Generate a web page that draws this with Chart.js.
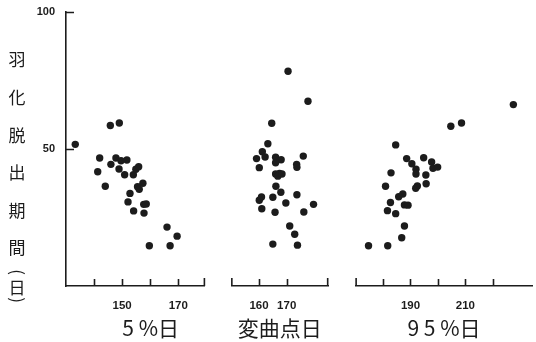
<!DOCTYPE html>
<html>
<head>
<meta charset="utf-8">
<script src="https://cdn.jsdelivr.net/npm/chart.js@4.4.1/dist/chart.umd.min.js"></script>
<style>
  html, body { margin: 0; padding: 0; background: #fff; }
  #wrap { width: 536px; height: 342px; position: relative; }
</style>
</head>
<body>
<div id="wrap"><canvas id="c" width="536" height="342"></canvas></div>
<script>
/* 羽化脱出期間 vs 5%日 / 変曲点日 / 95%日 — three panels sharing one y axis */

const INK = '#1c1c1c';
const JP = '"Noto Sans CJK JP", "Noto Sans", sans-serif';
const NUM = '"Liberation Sans", Arial, sans-serif';

// 5%日 panel
const day5 = [133.3, 145.8, 149.0, 142.0, 141.3, 144.0, 146.0, 147.8, 149.6, 151.7,
              148.9, 150.9, 154.0, 154.9, 155.9, 155.5, 156.1, 157.4, 152.8, 152.1,
              154.1, 157.7, 158.6, 157.8, 159.7, 166.0, 169.6, 167.1];
const per5 = [51.7, 58.6, 59.5, 46.7, 41.7, 36.4, 44.4, 46.7, 45.7, 46.0,
              42.7, 40.6, 40.6, 42.6, 43.5, 36.2, 35.3, 37.5, 33.8, 30.7,
              27.4, 29.8, 29.9, 26.6, 14.7, 21.5, 18.2, 14.7];

// 変曲点日 panel
const dayMid = [170.5, 177.7, 164.6, 163.2, 161.2, 159.1, 162.2, 160.1, 166.0, 168.0,
                166.0, 176.0, 173.6, 173.7, 166.0, 167.4, 166.8, 168.3, 166.1, 167.9,
                160.9, 160.1, 165.0, 173.7, 161.0, 169.7, 179.7, 165.8, 176.2, 171.1,
                172.9, 165.0, 173.9];
const perMid = [78.4, 67.4, 59.4, 51.9, 49.0, 46.5, 47.1, 43.2, 47.0, 46.1,
                45.0, 47.4, 44.4, 43.3, 40.9, 41.1, 40.1, 40.9, 36.4, 34.2,
                32.5, 31.3, 32.4, 33.3, 28.2, 30.3, 29.8, 26.9, 27.0, 21.9,
                18.9, 15.3, 14.9];

// 95%日 panel
const day95 = [227.5, 204.7, 208.6, 184.6, 188.6, 190.5, 194.8, 192.0, 192.0, 197.7,
               198.2, 199.9, 195.6, 182.9, 180.9, 192.5, 191.9, 195.7, 187.2, 185.7,
               182.7, 187.8, 189.1, 181.6, 184.6, 187.8, 186.8, 174.7, 181.7];
const per95 = [66.2, 58.3, 59.5, 51.5, 46.5, 44.6, 46.8, 42.6, 40.9, 45.3,
               43.0, 43.4, 40.5, 41.3, 36.4, 36.5, 35.7, 37.3, 33.6, 32.6,
               30.5, 29.6, 29.5, 27.5, 26.4, 21.9, 17.6, 14.7, 14.7];

// axis ranges, tick marks and labelled ticks per panel
const PANELS = [
  { id: 'x1', title: '\u3000  5 %日', min: 130, max: 179.5, marks: [140, 150, 160, 170], labels: [150, 170], weight: 139.7, leftEnd: false, rightEnd: true },
  { id: 'x2', title: '変曲点日', min: 150, max: 185, marks: [160, 170], labels: [160, 170], weight: 97.4, leftEnd: true, rightEnd: true },
  { id: 'x3', title: '9 5 %日', min: 170, max: 234.4, marks: [180, 190, 200, 210, 220], labels: [190, 210], weight: 177.7, leftEnd: true, rightEnd: false },
];
const GAPS = [26.6, 27.6];
const yMarks = [50, 100];
const yTitle = ['羽', '化', '脱', '出', '期', '間'];

const pairs = (xs, ys) => xs.map((x, i) => ({ x, y: ys[i] }));
const dot = { pointRadius: 3.7, pointHoverRadius: 3.7, backgroundColor: INK, borderWidth: 0 };

const axisFrame = {
  id: 'axisFrame',
  afterDraw(chart) {
    const { ctx, chartArea, scales } = chart;
    ctx.save();
    ctx.strokeStyle = INK; ctx.lineWidth = 1.6;
    const b = chartArea.bottom;
    ctx.beginPath();
    PANELS.forEach(p => {
      const s = scales[p.id];
      p.marks.forEach(v => {
        const x = Math.round(s.getPixelForValue(v)) + 0.5;
        ctx.moveTo(x, b); ctx.lineTo(x, b - 7);
      });
      if (p.leftEnd)  { ctx.moveTo(s.left + 0.5, b);  ctx.lineTo(s.left + 0.5, b - 8); }
      if (p.rightEnd) { ctx.moveTo(s.right - 0.5, b); ctx.lineTo(s.right - 0.5, b - 8); }
    });
    yMarks.forEach(v => {
      const y = Math.round(scales.y.getPixelForValue(v)) + 0.5;
      ctx.moveTo(chartArea.left, y); ctx.lineTo(chartArea.left + 8, y);
    });
    ctx.stroke();

    // vertical y title
    ctx.fillStyle = INK;
    ctx.font = '17px ' + JP;
    ctx.textAlign = 'center'; ctx.textBaseline = 'middle';
    yTitle.forEach((ch, i) => ctx.fillText(ch, 17, 60 + i * 37.6));
    ctx.fillText('日', 17, 288);
    ['(', ')'].forEach((ch, i) => {
      ctx.save();
      ctx.translate(17, i ? 300 : 272);
      ctx.rotate(Math.PI / 2);
      ctx.fillText(ch, 0, 0);
      ctx.restore();
    });
    ctx.restore();
  },
};

// fixed box sizes; drop the tick-label padding so the plot area spans the full width
const fitX = s => { s.height = 56; s.paddingLeft = 0; s.paddingRight = 0; };

const scales = {
  y: {
    type: 'linear', position: 'left', min: 0, max: 100,
    grid: { display: false, drawTicks: false },
    border: { display: true, color: INK, width: 1.6 },
    ticks: { stepSize: 50, padding: 11, color: INK, font: { family: NUM, size: 11, weight: 'bold' },
             callback: v => (v === 0 ? '' : v) },
    afterFit: s => { s.width = 66; s.paddingTop = 0; s.paddingBottom = 0; },
  },
};

PANELS.forEach((p, i) => {
  scales[p.id] = {
    type: 'linear', position: 'bottom', stack: 'days', stackWeight: p.weight,
    min: p.min, max: p.max,
    grid: { display: false, drawTicks: false },
    border: { display: true, color: INK, width: 1.6 },
    ticks: { stepSize: 10, includeBounds: false, autoSkip: false, maxRotation: 0, padding: 13, color: INK,
             font: { family: NUM, size: 11.5, weight: 'bold' },
             callback: v => (p.labels.includes(v) ? v : '') },
    title: { display: true, text: p.title, color: INK, font: { family: JP, size: 21 }, padding: { top: 2, bottom: 1 } },
    afterFit: fitX,
  };
  if (i < GAPS.length) {
    scales['gap' + i] = {
      type: 'linear', position: 'bottom', stack: 'days', stackWeight: GAPS[i],
      min: 0, max: 1,
      grid: { display: false, drawTicks: false },
      border: { display: false },
      ticks: { display: false },
      title: { display: false },
      afterFit: fitX,
    };
  }
});

new Chart(document.getElementById('c'), {
  type: 'scatter',
  data: {
    datasets: [
      { label: '5%日', data: pairs(day5, per5), xAxisID: 'x1', yAxisID: 'y', ...dot },
      { label: '変曲点日', data: pairs(dayMid, perMid), xAxisID: 'x2', yAxisID: 'y', ...dot },
      { label: '95%日', data: pairs(day95, per95), xAxisID: 'x3', yAxisID: 'y', ...dot },
    ],
  },
  options: {
    responsive: false, animation: false, devicePixelRatio: 1,
    layout: { padding: { top: 12, left: 0, right: 0, bottom: 0 } },
    plugins: { legend: { display: false }, tooltip: { enabled: false } },
    scales,
  },
  plugins: [axisFrame],
});
</script>
</body>
</html>
